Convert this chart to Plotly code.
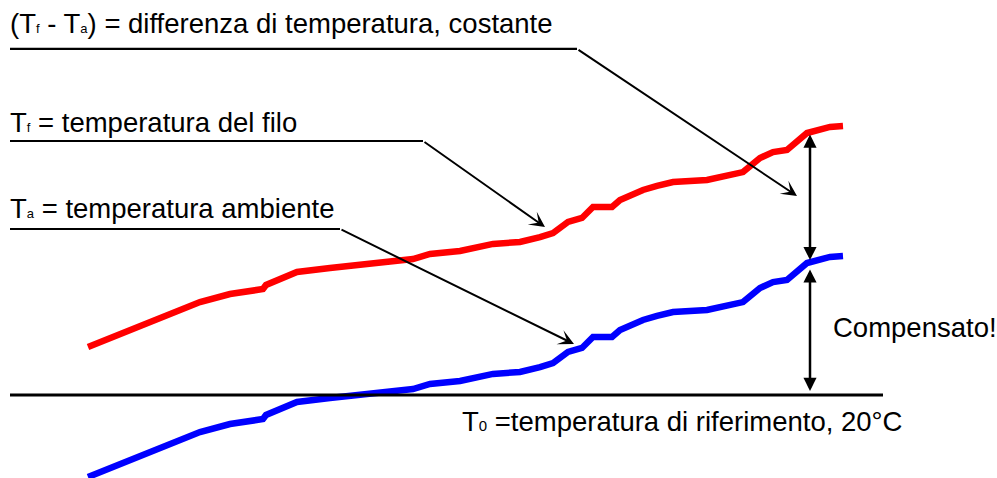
import plotly.graph_objects as go

# ---- data (time in arbitrary units, temperature in °C) ----
time = [88, 130, 170, 200, 230, 263, 266, 297, 330, 363, 400, 413, 430, 460, 493,
        520, 540, 553, 568, 582, 593, 612, 620, 643, 657, 673, 707, 743, 760, 773,
        787, 807, 830, 843]
T_filo = [23.69, 25.00, 26.31, 27.15, 27.77, 28.15, 28.46, 29.46, 29.77, 30.08,
          30.31, 30.46, 30.85, 31.08, 31.62, 31.77, 32.15, 32.46, 33.31, 33.62,
          34.46, 34.46, 35.00, 35.77, 36.08, 36.38, 36.54, 37.15, 38.23, 38.69,
          38.85, 40.15, 40.62, 40.69]
T_amb = [13.69, 15.00, 16.31, 17.15, 17.77, 18.15, 18.46, 19.46, 19.77, 20.08,
         20.31, 20.46, 20.85, 21.08, 21.62, 21.77, 22.15, 22.46, 23.31, 23.62,
         24.46, 24.46, 25.00, 25.77, 26.08, 26.38, 26.54, 27.15, 28.23, 28.69,
         28.85, 30.15, 30.62, 30.69]
T0 = 20
T0_span = [10, 883]

labels = {
    "diff": '(T<span style="font-size:13px">f</span> - T<span style="font-size:13px">a</span>) = differenza di temperatura, costante',
    "filo": 'T<span style="font-size:13px">f</span> = temperatura del filo',
    "amb": 'T<span style="font-size:13px">a</span> = temperatura ambiente',
    "ref": 'T<span style="font-size:15px">0</span> =temperatura di riferimento, 20°C',
    "comp": "Compensato!",
}

FONT = "Liberation Sans, Arial, sans-serif"
FS = 27.5

fig = go.Figure()
fig.add_trace(go.Scatter(x=time, y=T_filo, mode="lines",
                         line=dict(color="#ff0000", width=6.5), hoverinfo="skip"))
fig.add_trace(go.Scatter(x=time, y=T_amb, mode="lines",
                         line=dict(color="#0000ff", width=6.5), hoverinfo="skip"))
fig.add_trace(go.Scatter(x=T0_span, y=[T0, T0], mode="lines",
                         line=dict(color="black", width=3), hoverinfo="skip"))

shapes = []
annos = []

# leader lines: (underline start x, bend x, y), arrow tip (x, y)
leaders = [
    (10, 577, 46.62, 797, 35.31),
    (10, 423, 39.54, 545, 32.92),
    (10, 340, 32.77, 574, 23.92),
]
for x0, xb, yl, xt, yt in leaders:
    shapes.append(dict(type="line", xref="x", yref="y", x0=x0, x1=xb, y0=yl, y1=yl,
                       line=dict(color="black", width=2.2)))
    annos.append(dict(x=xt, y=yt, ax=xb, ay=yl, xref="x", yref="y", axref="x", ayref="y",
                      text="", showarrow=True, arrowhead=3, arrowsize=1.3, arrowwidth=2,
                      arrowcolor="black", standoff=0))

# double arrows
for ytop, ybot in [(40.15, 30.38), (29.77, 20.31)]:
    annos.append(dict(x=810, y=ybot, ax=810, ay=ytop, xref="x", yref="y", axref="x", ayref="y",
                      text="", showarrow=True, arrowhead=2, arrowsize=1.05, arrowwidth=2.5,
                      startarrowhead=2, startarrowsize=1.05, arrowside="end+start",
                      arrowcolor="black", standoff=0, startstandoff=0))

# texts
for key, x, y in [("diff", 8, 47.23), ("filo", 8, 39.62), ("amb", 8, 33.0),
                  ("ref", 460, 16.65), ("comp", 831, 23.85)]:
    annos.append(dict(x=x, y=y, xref="x", yref="y", text=labels[key], showarrow=False,
                      xanchor="left", yanchor="bottom",
                      font=dict(family=FONT, size=FS, color="black")))

fig.update_layout(
    width=997, height=478,
    margin=dict(l=0, r=0, t=0, b=0),
    paper_bgcolor="white", plot_bgcolor="white",
    showlegend=False,
    xaxis=dict(range=[0, 997], visible=False, fixedrange=True),
    yaxis=dict(range=[13.615, 50.385], visible=False, fixedrange=True),
    shapes=shapes, annotations=annos,
)

fig.write_html("out.html", config={"displayModeBar": False},
               post_script="document.body.style.margin='0px';document.body.style.overflow='hidden';")
